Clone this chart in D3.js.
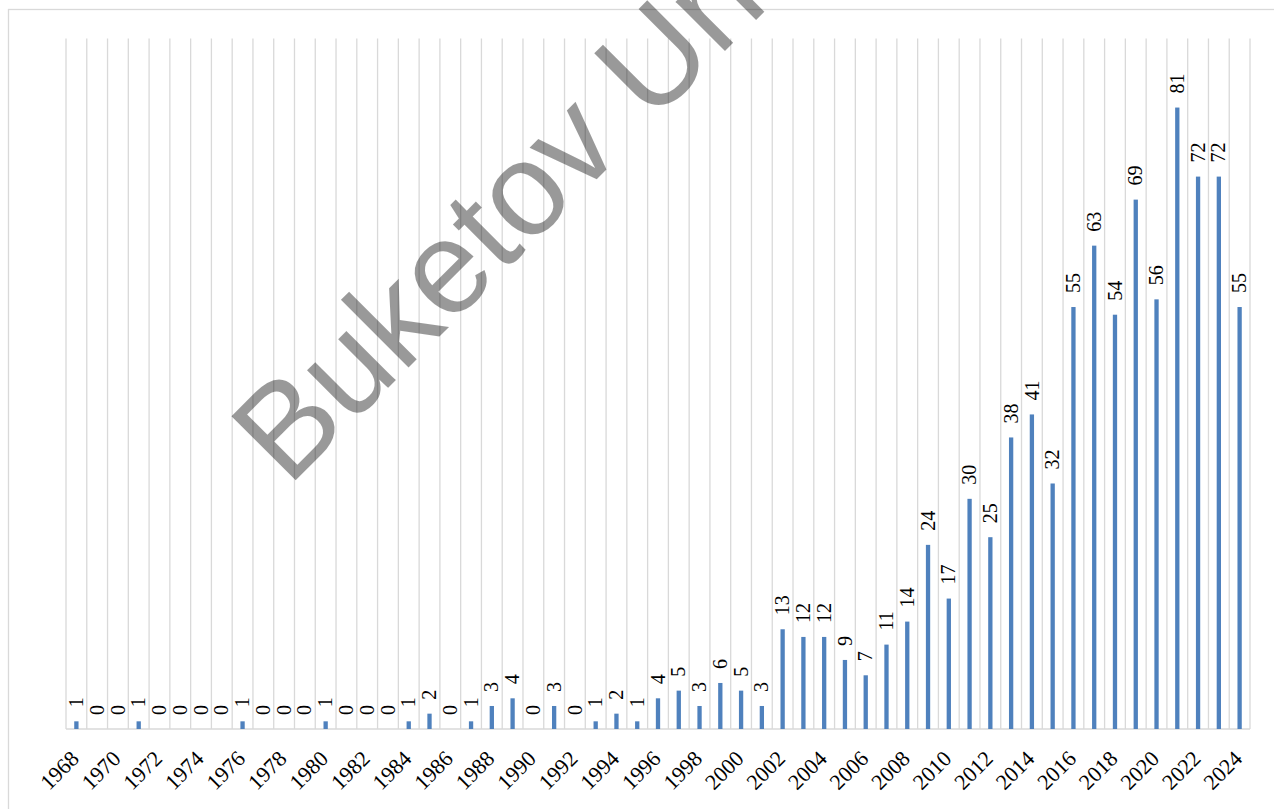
<!DOCTYPE html>
<html>
<head>
<meta charset="utf-8">
<script src="https://cdn.jsdelivr.net/npm/d3@7"></script>
<style>
  body { margin: 0; background: #fff; }
  svg { display: block; }
  .serif { font-family: "Liberation Serif", "Times New Roman", serif; }
  .sans { font-family: "Liberation Sans", Arial, sans-serif; }
</style>
</head>
<body>
<div id="chart"></div>
<script>
// yearly counts
var years = d3.range(1968, 2025).map(String);
var counts = [1, 0, 0, 1, 0, 0, 0, 0, 1, 0, 0, 0, 1, 0, 0, 0, 1, 2, 0, 1,
  3, 4, 0, 3, 0, 1, 2, 1, 4, 5, 3, 6, 5, 3, 13, 12, 12, 9, 7, 11, 14, 24,
  17, 30, 25, 38, 41, 32, 55, 63, 54, 69, 56, 81, 72, 72, 55];
var tickYears = years.filter(function(d, i) { return i % 2 === 0; });
var watermark = "Buketov University";

var W = 1274, H = 809;
var margin = {top: 38.5, right: 24, bottom: 80, left: 66};

var svg = d3.select("#chart")
  .append("svg")
    .attr("width", W)
    .attr("height", H);

svg.append("rect")
  .attr("width", W).attr("height", H)
  .attr("fill", "#fff");

// chart area border
svg.append("rect")
  .attr("x", 8.5).attr("y", 9.5)
  .attr("width", W + 20).attr("height", H + 20)
  .attr("fill", "none")
  .attr("stroke", "#d9d9d9")
  .attr("stroke-width", 1.3);

var x = d3.scaleBand()
  .domain(years)
  .range([margin.left, W - margin.right])
  .padding(0);

var y = d3.scaleLinear()
  .domain([0, 90])
  .range([729, margin.top]);

var barW = 4.3;

// vertical gridlines on category boundaries
var bounds = years.map(function(d) { return x(d); }).concat([x.range()[1]]);
svg.append("g")
  .selectAll("line")
  .data(bounds)
  .enter().append("line")
    .attr("x1", function(d) { return d; })
    .attr("x2", function(d) { return d; })
    .attr("y1", y(90))
    .attr("y2", y(0))
    .attr("stroke", "#d9d9d9")
    .attr("stroke-width", 1.3);

// x axis line
svg.append("line")
  .attr("x1", x.range()[0]).attr("x2", x.range()[1])
  .attr("y1", y(0)).attr("y2", y(0))
  .attr("stroke", "#d9d9d9")
  .attr("stroke-width", 1.3);

var data = years.map(function(d, i) { return {year: d, v: counts[i]}; });

svg.append("g")
  .selectAll("rect")
  .data(data)
  .enter().append("rect")
    .attr("x", function(d) { return x(d.year) + x.bandwidth() / 2 - barW / 2; })
    .attr("y", function(d) { return y(d.v); })
    .attr("width", barW)
    .attr("height", function(d) { return y(0) - y(d.v); })
    .attr("fill", "#4f81bd");

// value labels, rotated
svg.append("g")
  .selectAll("text")
  .data(data)
  .enter().append("text")
    .attr("class", "serif")
    .attr("transform", function(d) {
      return "translate(" + (x(d.year) + x.bandwidth() / 2) + "," + (y(d.v) - 14) + ") rotate(-90)";
    })
    .attr("dy", "0.33em")
    .style("font-size", "20px")
    .attr("fill", "#000")
    .text(function(d) { return d.v; });

// year labels, every other year
svg.append("g")
  .selectAll("text")
  .data(tickYears)
  .enter().append("text")
    .attr("class", "serif")
    .attr("transform", function(d) {
      return "translate(" + (x(d) + x.bandwidth() / 2 + 4) + ",760) rotate(-45)";
    })
    .attr("text-anchor", "end")
    .style("font-size", "22px")
    .attr("fill", "#000")
    .text(function(d) { return d; });

// watermark
svg.append("text")
  .attr("class", "sans")
  .attr("transform", "translate(288,488) rotate(-45)")
  .style("font-size", "132px")
  .attr("fill", "#000")
  .attr("fill-opacity", 0.4)
  .text(watermark);
</script>
</body>
</html>
